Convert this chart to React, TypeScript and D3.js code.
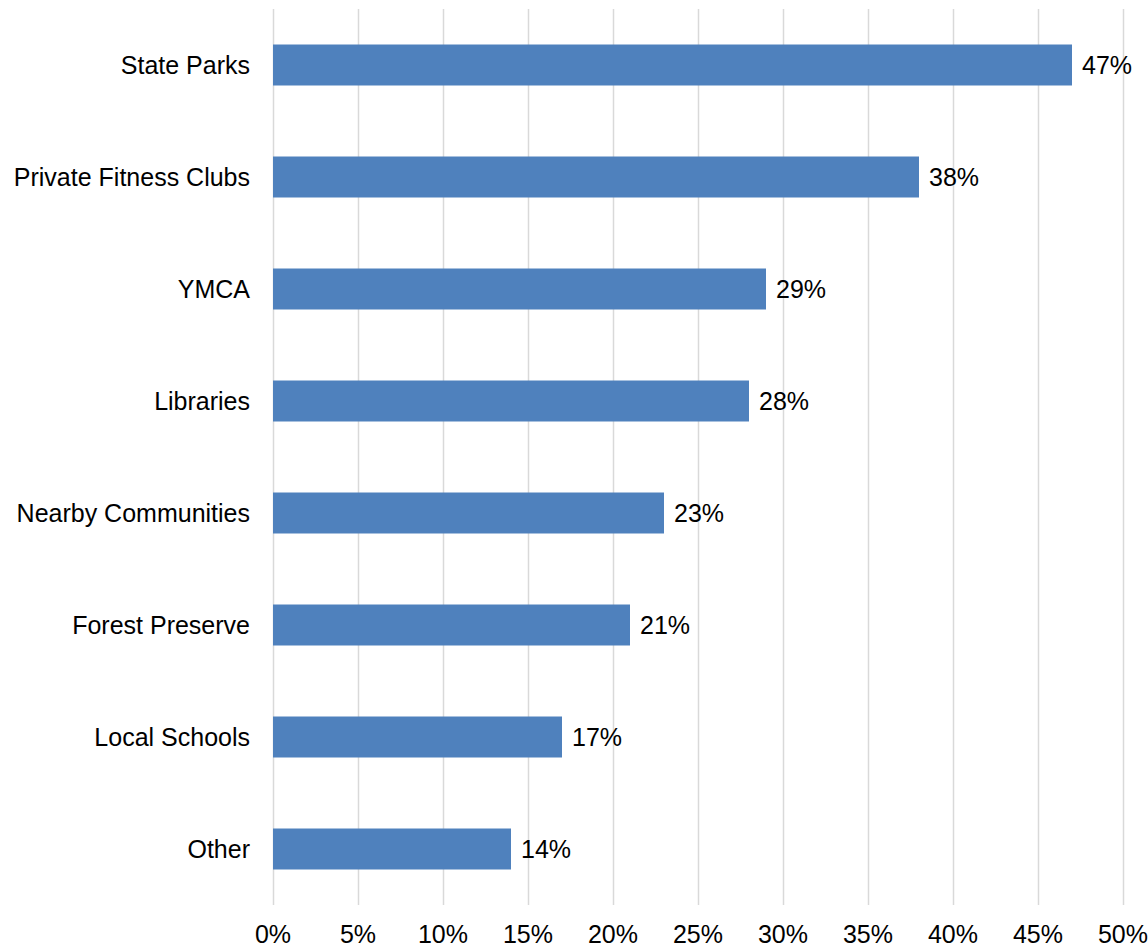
import { useEffect, useRef } from 'react';
import * as d3 from 'd3';

const categories = [
  'State Parks',
  'Private Fitness Clubs',
  'YMCA',
  'Libraries',
  'Nearby Communities',
  'Forest Preserve',
  'Local Schools',
  'Other',
];
const values = [47, 38, 29, 28, 23, 21, 17, 14];
const ticks = [0, 5, 10, 15, 20, 25, 30, 35, 40, 45, 50];

export default function App() {
  const svgRef = useRef<SVGSVGElement>(null);

  useEffect(() => {
    // @ts-ignore
    const svg = d3.select<SVGSVGElement, unknown>(svgRef.current);
    svg.selectAll('*').remove();

    const width = 1148;
    const height = 948;
    const left = 273;
    const right = 1123;
    const top = 9;
    const bottom = 905;
    const font = 'Liberation Sans, Arial, sans-serif';

    const x = d3.scaleLinear().domain([0, 50]).range([left, right]);
    const y = d3.scaleBand<string>().domain(categories).range([top, bottom]).paddingInner(0.634).paddingOuter(0.317);

    svg.attr('width', width).attr('height', height);

    // gridlines
    svg
      .append('g')
      .selectAll('line')
      .data(ticks)
      .enter()
      .append('line')
      .attr('x1', d => Math.round(x(d)) + 0.5)
      .attr('x2', d => Math.round(x(d)) + 0.5)
      .attr('y1', top)
      .attr('y2', bottom)
      .attr('stroke', '#d9d9d9')
      .attr('stroke-width', 1.5);

    // bars
    svg
      .append('g')
      .selectAll('rect')
      .data(values)
      .enter()
      .append('rect')
      .attr('x', x(0))
      .attr('y', (_, i) => y(categories[i])!)
      .attr('width', d => x(d) - x(0))
      .attr('height', y.bandwidth())
      .attr('fill', '#4f81bd');

    // value labels
    svg
      .append('g')
      .selectAll('text')
      .data(values)
      .enter()
      .append('text')
      .attr('x', d => x(d) + 10)
      .attr('y', (_, i) => y(categories[i])! + y.bandwidth() / 2)
      .attr('dy', '0.35em')
      .attr('font-family', font)
      .attr('font-size', 25)
      .attr('fill', '#000')
      .text(d => `${d}%`);

    // category labels
    svg
      .append('g')
      .selectAll('text')
      .data(categories)
      .enter()
      .append('text')
      .attr('x', left - 23)
      .attr('y', d => y(d)! + y.bandwidth() / 2)
      .attr('dy', '0.35em')
      .attr('text-anchor', 'end')
      .attr('font-family', font)
      .attr('font-size', 25)
      .attr('fill', '#000')
      .text(d => d);

    // x tick labels
    svg
      .append('g')
      .selectAll('text')
      .data(ticks)
      .enter()
      .append('text')
      .attr('x', d => x(d))
      .attr('y', 943)
      .attr('text-anchor', 'middle')
      .attr('font-family', font)
      .attr('font-size', 25)
      .attr('fill', '#000')
      .text(d => `${d}%`);
  }, []);

  return (
    <div style={{ position: 'absolute', left: 0, top: 0, width: 1148, height: 948, background: '#fff' }}>
      <svg ref={svgRef} style={{ display: 'block' }} />
    </div>
  );
}
